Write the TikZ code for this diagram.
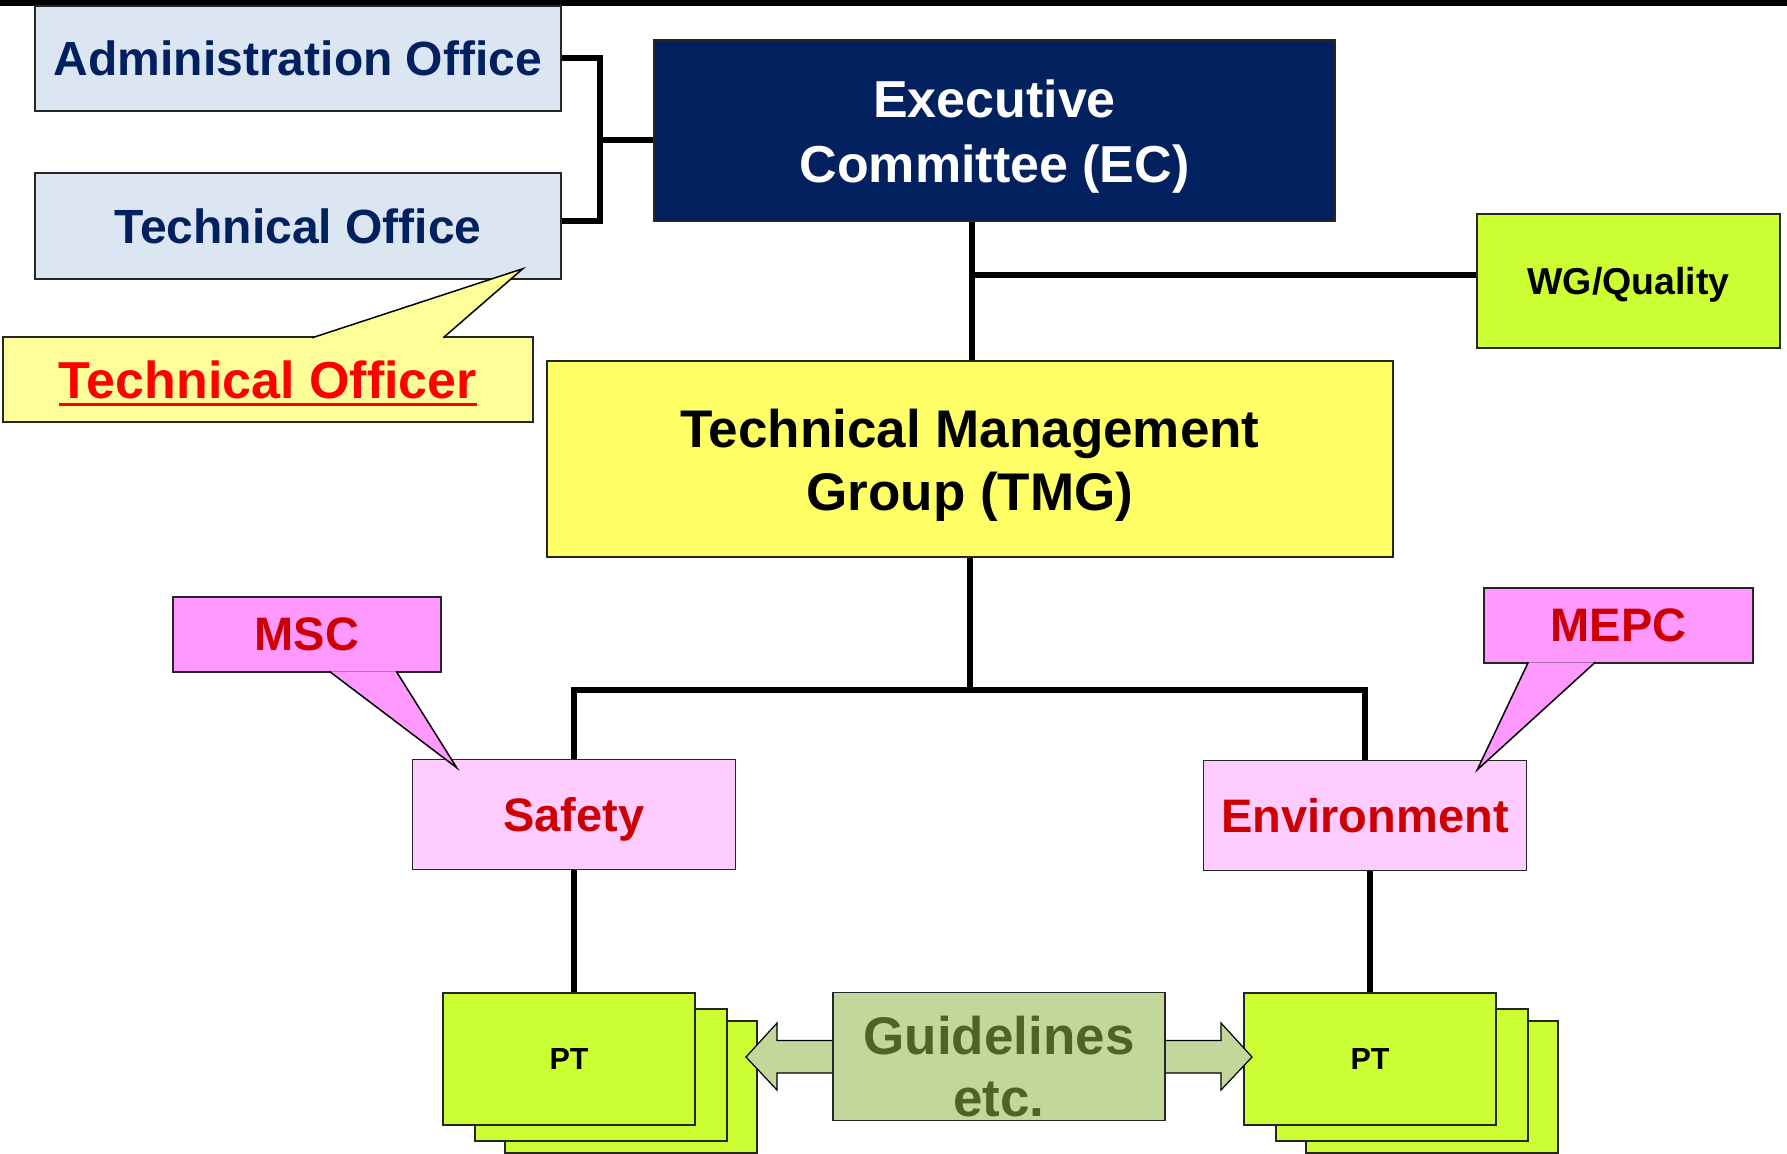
\documentclass[tikz,border=0pt]{standalone}
\usepackage{fontspec}
\setmainfont{Liberation Sans}

\definecolor{officeblue}{HTML}{DCE6F2}
\definecolor{officetext}{HTML}{002060}
\definecolor{ecnavy}{HTML}{02215E}
\definecolor{limegreen}{HTML}{CCFF33}
\definecolor{officeryellow}{HTML}{FFFF99}
\definecolor{tmgyellow}{HTML}{FFFF66}
\definecolor{calloutpink}{HTML}{FF99FF}
\definecolor{panelpink}{HTML}{FFCCFF}
\definecolor{panelred}{HTML}{CC0000}
\definecolor{guidegreen}{HTML}{C4D79B}
\definecolor{guidetext}{HTML}{4F6228}

\newsavebox\ulbox
\newcommand\ultext[1]{\sbox\ulbox{#1}\rlap{\rule[-8pt]{\wd\ulbox}{3pt}}\usebox\ulbox}
\newcommand\pointer[4]{%
	\fill[#1] (#2) -- (#3) -- (#4) -- cycle;
	\draw[line width=1.5] (#2) -- (#3) -- (#4);}

\tikzset{
	orgbox/.style={draw=black!85, line width=1.5, inner sep=0pt, align=center},
	office/.style={orgbox, fill=officeblue, text=officetext, minimum width=526, minimum height=105,
		text depth=0, font=\fontsize{48}{52}\selectfont\bfseries},
	panel/.style={orgbox, fill=panelpink, text=panelred, minimum width=323, minimum height=110,
		text depth=0, font=\fontsize{47}{52}\selectfont\bfseries},
	remark/.style={orgbox, fill=calloutpink, text=panelred, minimum width=268, minimum height=75,
		text depth=0, font=\fontsize{47}{52}\selectfont\bfseries},
	ptbox/.style={orgbox, fill=limegreen, text=black, minimum width=252, minimum height=132,
		text depth=0, font=\fontsize{30.5}{34}\selectfont\bfseries},
	link/.style={line width=6},
	guidearrow/.style={fill=guidegreen, draw=black, line width=1.2}
}

\begin{document}
\begin{tikzpicture}[x=1pt, y=1pt]
	\useasboundingbox (0,0) rectangle (1787,-1153);
	\draw[line width=6] (0,-3) -- (1787,-3);

	\node[office] (admin) at (298,-58.5) {Administration Office};
	\node[office, minimum height=106] (techoff) at (298,-226) {Technical Office};
	\node[orgbox, fill=ecnavy, text=white, minimum width=681, minimum height=181, text height=115,
		font=\fontsize{52}{65}\selectfont\bfseries] (ec) at (994.5,-130.5) {Executive\\Committee (EC)};
	\node[orgbox, fill=limegreen, minimum width=303, minimum height=134, text depth=0,
		font=\fontsize{37.5}{42}\selectfont\bfseries] (wg) at (1628.5,-281) {WG/Quality};
	\node[orgbox, fill=tmgyellow, minimum width=846, minimum height=196, text height=114,
		font=\fontsize{53}{63}\selectfont\bfseries] (tmg) at (970,-459) {Technical Management\\Group (TMG)};
	\node[panel] (safety) at (574,-814.5) {Safety};
	\node[panel] (env) at (1365,-815.5) {Environment};

	% project teams
	\foreach \nm/\dx/\dy in {3/62/28, 2/32/16} {
		\node[ptbox] (ptl\nm) at ({569+\dx},{-1059-\dy}) {};
		\node[ptbox] (ptr\nm) at ({1370+\dx},{-1059-\dy}) {};
	}
	\node[ptbox] (ptl) at (569,-1059) {PT};
	\node[ptbox] (ptr) at (1370,-1059) {PT};

	\draw[guidearrow] (746,-1057) -- (777,-1023) -- (777,-1040.5) -- (1221,-1040.5) -- (1221,-1023)
		-- (1252,-1057) -- (1221,-1090) -- (1221,-1073) -- (777,-1073) -- (777,-1090) -- cycle;
	\node[orgbox, fill=guidegreen, text=guidetext, minimum width=332, minimum height=128, text height=121,
		font=\fontsize{53}{62}\selectfont\bfseries] (guide) at (999,-1056.5) {Guidelines\\etc.};

	% connectors
	\coordinate (brk) at (600,-140);
	\draw[link] (admin.east) -| (brk) |- ([yshift=5]techoff.east);
	\draw[link] (brk) -- (brk -| ec.west);
	\draw[link] ([xshift=2]tmg.north) -- ([xshift=2]tmg.north |- ec.south);
	\draw[link] ([yshift=6]wg.west) -- ([yshift=6]wg.west -| tmg.north);
	\coordinate (bus) at (970,-690);
	\draw[link] (tmg.south) -- (bus);
	\draw[link] (safety.north) |- (bus) -| (env.north);
	\draw[link] (safety.south) -- (safety.south |- ptl.north);
	\draw[link] (ptr.north) -- (ptr.north |- env.south);

	% callouts
	\node[orgbox, fill=officeryellow, text=red, minimum width=530, minimum height=85, text depth=0,
		font=\fontsize{52}{56}\selectfont\bfseries] (toff) at (268,-379.5) {\ultext{Technical Officer}};
	\coordinate (toffa) at ([xshift=310,yshift=-1.5]toff.north west);
	\coordinate (toffb) at ([xshift=441,yshift=-1.5]toff.north west);
	\coordinate (tofftip) at ([xshift=-39,yshift=11]techoff.south east);
	\pointer{officeryellow}{toffa}{tofftip}{toffb}

	\node[remark] (msc) at (307,-634.5) {MSC};
	\coordinate (msca) at ([xshift=157,yshift=1.5]msc.south west);
	\coordinate (mscb) at ([xshift=224,yshift=1.5]msc.south west);
	\coordinate (msctip) at ([xshift=45,yshift=-9]safety.north west);
	\pointer{calloutpink}{msca}{msctip}{mscb}

	\node[remark, minimum width=269] (mepc) at (1618.5,-625.5) {MEPC};
	\coordinate (mepca) at ([xshift=45,yshift=1.5]mepc.south west);
	\coordinate (mepcb) at ([xshift=112,yshift=1.5]mepc.south west);
	\coordinate (mepctip) at ([xshift=-50,yshift=-10]env.north east);
	\pointer{calloutpink}{mepca}{mepctip}{mepcb}
\end{tikzpicture}
\end{document}
